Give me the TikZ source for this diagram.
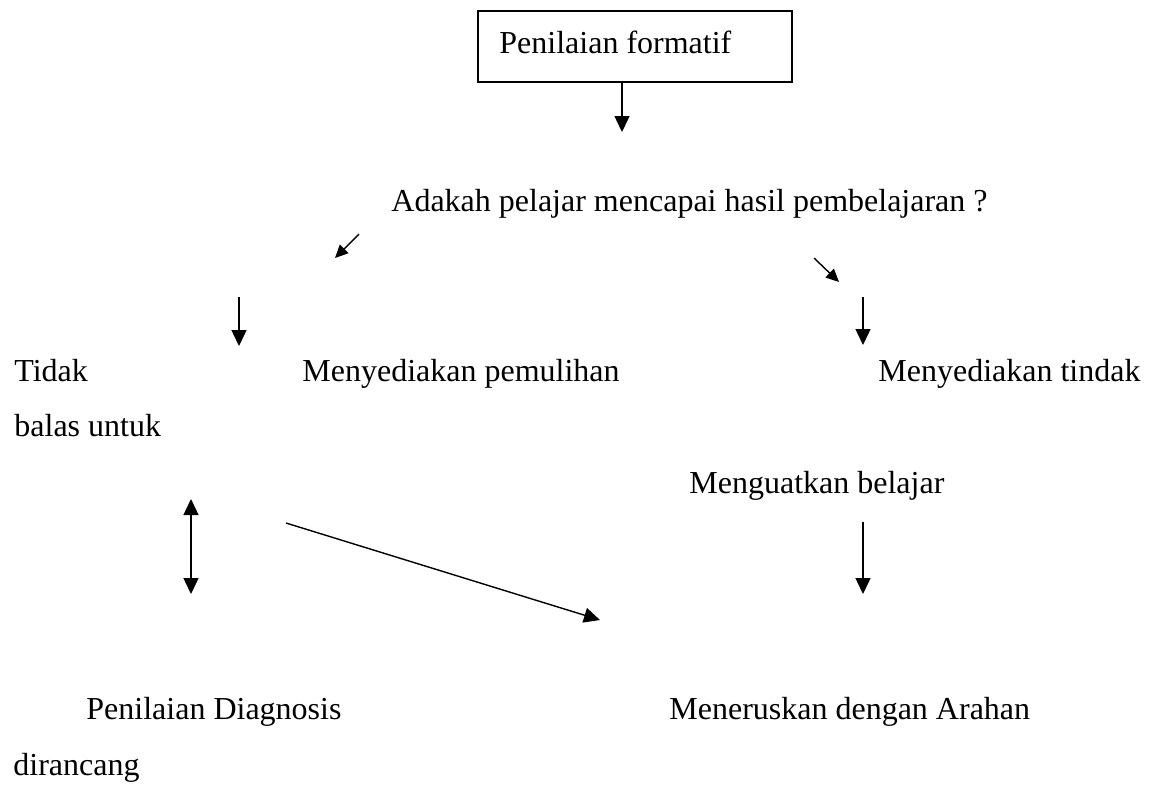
\documentclass[tikz,border=0pt]{standalone}
\usepackage{fontspec}
\setmainfont{Liberation Serif}
\usetikzlibrary{arrows.meta}
\tikzset{
    TX/.style ={inner sep=0pt, anchor=base west, font=\fontsize{16}{19}\selectfont},
    BX/.style ={rectangle, minimum width = 157pt, minimum height = 35.5pt, draw=black, line width=0.6pt},
    AR1/.style ={-{Triangle[length=8pt,width=7.5pt]}, line width=0.7pt},
    AR2/.style ={-{Triangle[length=6.5pt,width=6pt]}, line width=0.7pt},
    AR3/.style ={{Triangle[length=8pt,width=7.5pt]}-{Triangle[length=8pt,width=7.5pt]}, line width=0.7pt}
}

\begin{document}
\begin{tikzpicture}[x=0.5pt,y=-0.5pt]
        \useasboundingbox (0,0) rectangle (1152,784);
        % kotak atas
        \node[BX] (box) at (635,46.5) {};
        \node[TX] (formatif) at (499,53) {Penilaian formatif};
        \node[TX] (soalan) at (391,211) {Adakah pelajar mencapai hasil pembelajaran ?};
        \node[TX] (tidak) at (14,381) {Tidak};
        \node[TX] (pemulihan) at (302,381) {Menyediakan pemulihan};
        \node[TX] (tindak) at (878,381) {Menyediakan tindak};
        \node[TX] (balas) at (14,436) {balas untuk};
        \node[TX] (menguatkan) at (689,493) {Menguatkan belajar};
        \node[TX] (diagnosis) at (86,719) {Penilaian Diagnosis};
        \node[TX] (arahan) at (669,719) {Meneruskan dengan Arahan};
        \node[TX] (dirancang) at (13,775) {dirancang};
        % hujung anak panah
        \coordinate (a1) at (622,82);   \coordinate (b1) at (622,132);
        \coordinate (a2) at (359,234);  \coordinate (b2) at (335,258);
        \coordinate (a3) at (814,258);  \coordinate (b3) at (839,282);
        \coordinate (a4) at (239,297);  \coordinate (b4) at (239,346);
        \coordinate (a5) at (863,297);  \coordinate (b5) at (863,345);
        \coordinate (a6) at (191,499);  \coordinate (b6) at (191,594);
        \coordinate (a7) at (286,523);  \coordinate (b7) at (600,620);
        \coordinate (a8) at (863,522);  \coordinate (b8) at (863,594);
        \draw[AR1] (a1) -- (b1);
        \draw[AR2] (a2) -- (b2);
        \draw[AR2] (a3) -- (b3);
        \draw[AR1] (a4) -- (b4);
        \draw[AR1] (a5) -- (b5);
        \draw[AR3] (a6) -- (b6);
        \draw[AR1] (a7) -- (b7);
        \draw[AR1] (a8) -- (b8);
\end{tikzpicture}
\end{document}
